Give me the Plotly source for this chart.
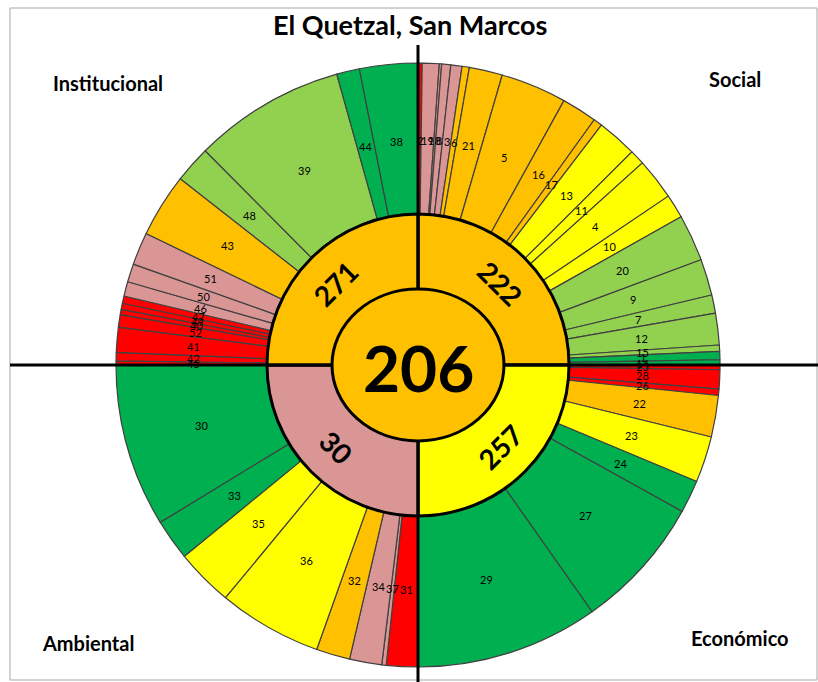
import math
import plotly.graph_objects as go

# ---------------- data ----------------
title_text = "El Quetzal, San Marcos"
center_value = 206

dimension_names = ["Social", "Económico", "Ambiental", "Institucional"]
dimension_scores = [222, 257, 30, 271]
dimension_status = ["naranja", "amarillo", "rosa", "naranja"]

social_labels = ["2", "19", "18", "8", "3", "6", "21", "5", "16", "17", "13", "11",
                 "4", "10", "20", "9", "7", "12", "15", "1", "14"]
social_values = [0.8, 3.25, 0.45, 1.75, 2.15, 1.4, 6.4, 12.7, 6.8, 1.7, 7.7, 2.9,
                 8.0, 4.6, 9.0, 7.0, 3.5, 6.1, 1.2, 1.6, 1.0]
social_status = ["rojo", "rosa", "rosa", "rosa", "rosa", "naranja", "naranja", "naranja",
                 "naranja", "naranja", "amarillo", "amarillo", "amarillo", "amarillo",
                 "verde_claro", "verde_claro", "verde_claro", "verde_claro", "verde_claro",
                 "verde", "verde"]

economico_labels = ["25", "28", "26", "22", "23", "24", "27", "29"]
economico_values = [0.9, 3.7, 1.2, 8.0, 8.9, 6.3, 25.8, 35.2]
economico_status = ["rojo", "rojo", "rojo", "naranja", "amarillo", "verde", "verde", "verde"]

ambiental_labels = ["31", "37", "34", "32", "36", "35", "33", "30"]
ambiental_values = [6.05, 0.85, 6.2, 6.5, 20.0, 11.1, 7.9, 31.4]
ambiental_status = ["rojo", "rosa", "rosa", "naranja", "amarillo", "amarillo", "verde", "verde"]

institucional_labels = ["45", "42", "41", "52", "40", "49", "47", "46", "50", "51",
                        "43", "48", "39", "44", "38"]
institucional_values = [0.8, 1.6, 4.8, 2.4, 1.0, 1.2, 1.4, 2.8, 3.5, 6.3,
                        12.3, 7.1, 29.2, 4.4, 11.2]
institucional_status = ["rojo", "rojo", "rojo", "rojo", "rojo", "rojo", "rojo", "rosa", "rosa",
                        "rosa", "naranja", "verde_claro", "verde_claro", "verde", "verde"]

status_colors = {
    "rojo": "#FF0000",
    "rosa": "#DA9694",
    "naranja": "#FFC000",
    "amarillo": "#FFFF00",
    "verde_claro": "#92D050",
    "verde": "#00B050",
}

# ---------------- geometry (pixels) ----------------
W, H = 818, 682
CX, CY = 418, 365
R_OUT, R_MID, R_IN_X, R_IN_Y = 302, 151, 86, 76
R_OUT_LABEL, R_MID_LABEL = 225, 116
FONT = "Lato"


def px_x(x):
    return x / W


def px_y(y):
    return 1 - y / H


groups = [
    (social_labels, social_values, social_status),
    (economico_labels, economico_values, economico_status),
    (ambiental_labels, ambiental_values, ambiental_status),
    (institucional_labels, institucional_values, institucional_status),
]

outer_labels, outer_values, outer_colors = [], [], []
for labs, vals, sts in groups:
    outer_labels += labs
    outer_values += vals
    outer_colors += [status_colors[s] for s in sts]

mid_values = [sum(v) for _, v, _ in groups]

fig = go.Figure()

fig.add_trace(go.Pie(
    values=outer_values,
    labels=outer_labels,
    textinfo="none",
    marker=dict(colors=outer_colors, line=dict(color="#404040", width=1.2)),
    hole=R_MID / R_OUT,
    sort=False,
    direction="clockwise",
    rotation=0,
    domain=dict(x=[px_x(CX - R_OUT), px_x(CX + R_OUT)], y=[px_y(CY + R_OUT), px_y(CY - R_OUT)]),
    hoverinfo="label",
    showlegend=False,
))

fig.add_trace(go.Pie(
    values=mid_values,
    labels=dimension_names,
    textinfo="none",
    marker=dict(colors=[status_colors[s] for s in dimension_status],
                line=dict(color="#000000", width=3)),
    hole=0.45,
    sort=False,
    direction="clockwise",
    rotation=0,
    domain=dict(x=[px_x(CX - R_MID), px_x(CX + R_MID)], y=[px_y(CY + R_MID), px_y(CY - R_MID)]),
    hoverinfo="label",
    showlegend=False,
))


def polar_to_paper(theta_deg, r):
    t = math.radians(theta_deg)
    return px_x(CX + r * math.sin(t)), px_y(CY - r * math.cos(t))


def ann(x, y, text, size, angle=0):
    return dict(x=x, y=y, xref="paper", yref="paper", text=text, showarrow=False,
                xanchor="center", yanchor="middle", textangle=angle,
                font=dict(family=FONT, size=size, color="#000000"))


annotations = []

# outer ring labels
total_out = sum(outer_values)
cum = 0
for lab, v in zip(outer_labels, outer_values):
    theta = (cum + v / 2) / total_out * 360
    cum += v
    x, y = polar_to_paper(theta, R_OUT_LABEL)
    annotations.append(ann(x, y, lab, 11))

# middle ring scores
total = sum(mid_values)
cum = 0
for name, score, v in zip(dimension_names, dimension_scores, mid_values):
    theta = (cum + v / 2) / total * 360
    cum += v
    x, y = polar_to_paper(theta, R_MID_LABEL)
    ang = ((theta + 90) % 180) - 90
    annotations.append(ann(x, y, f"<b>{score}</b>", 28, ang))

annotations.append(ann(px_x(CX), px_y(CY + 2), f"<b>{center_value}</b>", 64))
annotations.append(ann(px_x(410), px_y(25), f"<b>{title_text}</b>", 27))

corner_pos = {"Social": (735, 79), "Económico": (740, 638),
              "Ambiental": (88, 643), "Institucional": (108, 83)}
for name in dimension_names:
    x, y = corner_pos[name]
    annotations.append(ann(px_x(x), px_y(y), f"<b>{name}</b>", 20))

shapes = [
    dict(type="rect", xref="paper", yref="paper", x0=px_x(10), x1=px_x(817), y0=px_y(680), y1=px_y(8),
         line=dict(color="#A6A6A6", width=1), layer="below"),
    dict(type="line", xref="paper", yref="paper", x0=px_x(10), x1=1, y0=px_y(CY), y1=px_y(CY),
         line=dict(color="#000000", width=3)),
    dict(type="line", xref="paper", yref="paper", x0=px_x(CX), x1=px_x(CX), y0=0, y1=px_y(45),
         line=dict(color="#000000", width=3)),
    dict(type="circle", xref="paper", yref="paper",
         x0=px_x(CX - R_IN_X), x1=px_x(CX + R_IN_X), y0=px_y(CY + R_IN_Y), y1=px_y(CY - R_IN_Y),
         fillcolor="#FFC000", line=dict(color="#000000", width=3)),
]

fig.update_layout(
    width=W, height=H,
    margin=dict(l=0, r=0, t=0, b=0),
    paper_bgcolor="white",
    plot_bgcolor="white",
    annotations=annotations,
    shapes=shapes,
    showlegend=False,
)

fig.write_html("out.html", config={"displayModeBar": False},
               post_script="document.body.style.margin='0';document.body.style.overflow='hidden';")
